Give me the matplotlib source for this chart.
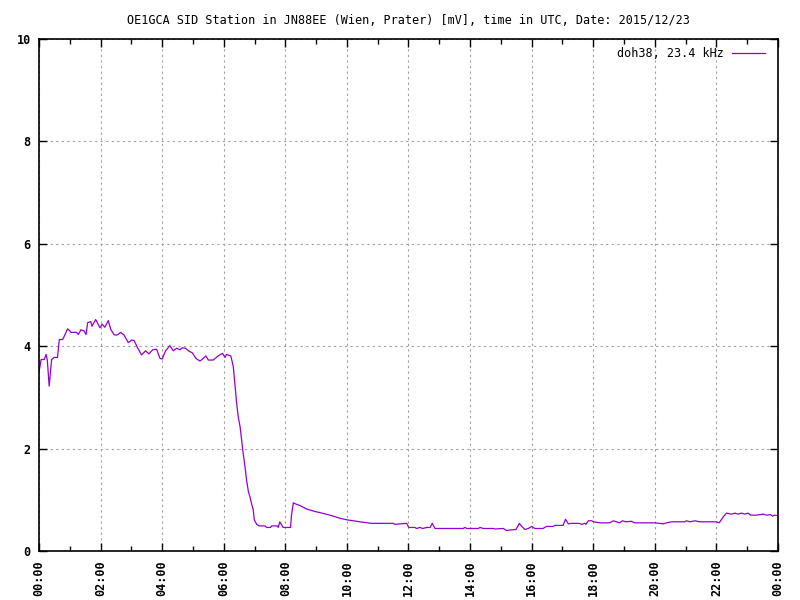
import matplotlib
matplotlib.use("Agg")
import matplotlib.pyplot as plt
from matplotlib.ticker import MultipleLocator

title = "OE1GCA SID Station in JN88EE (Wien, Prater) [mV], time in UTC, Date: 2015/12/23"
series_label = "doh38, 23.4 kHz"

hours = [0.00, 0.07, 0.17, 0.23, 0.27, 0.33, 0.38, 0.41, 0.49, 0.60, 0.66, 0.77, 0.93, 1.04,
         1.22, 1.28, 1.36, 1.46, 1.53, 1.58, 1.68, 1.72, 1.84, 1.98, 2.05, 2.14, 2.25, 2.33,
         2.44, 2.55, 2.65, 2.76, 2.90, 3.01, 3.09, 3.20, 3.33, 3.46, 3.57, 3.69, 3.82, 3.93,
         4.00, 4.11, 4.25, 4.36, 4.47, 4.58, 4.65, 4.76, 4.85, 4.98, 5.10, 5.23, 5.33, 5.42,
         5.50, 5.66, 5.82, 5.96, 6.04, 6.09, 6.23, 6.31, 6.36, 6.42, 6.47, 6.53, 6.58, 6.63,
         6.69, 6.74, 6.80, 6.85, 6.90, 6.96, 6.99, 7.07, 7.15, 7.34, 7.39, 7.52, 7.55, 7.74,
         7.77, 7.82, 7.88, 7.93, 8.17, 8.20, 8.26, 8.37, 8.47, 8.69, 8.91, 9.12, 9.45, 9.77,
         9.99, 10.42, 10.80, 11.50, 11.56, 11.94, 12.01, 12.21, 12.26, 12.37, 12.46, 12.59,
         12.70, 12.77, 12.86, 13.78, 13.83, 13.89, 14.27, 14.32, 14.43, 14.75, 14.81, 15.08,
         15.18, 15.29, 15.49, 15.60, 15.68, 15.78, 15.89, 16.00, 16.10, 16.37, 16.48, 16.70,
         16.75, 17.02, 17.10, 17.19, 17.30, 17.54, 17.62, 17.73, 17.76, 17.84, 17.95, 18.02,
         18.21, 18.54, 18.65, 18.76, 18.86, 18.95, 19.06, 19.24, 19.35, 19.73, 20.00, 20.16,
         20.27, 20.38, 20.54, 20.97, 21.03, 21.14, 21.30, 21.46, 22.00, 22.09, 22.16, 22.24,
         22.33, 22.49, 22.60, 22.70, 22.81, 22.92, 23.03, 23.11, 23.30, 23.52, 23.63, 23.76,
         23.82, 23.89, 24.00]
values = [3.50, 3.74, 3.74, 3.84, 3.73, 3.22, 3.54, 3.74, 3.78, 3.78, 4.13, 4.13, 4.34, 4.27,
          4.27, 4.23, 4.32, 4.30, 4.23, 4.46, 4.48, 4.39, 4.52, 4.36, 4.43, 4.37, 4.50, 4.33,
          4.22, 4.22, 4.27, 4.22, 4.07, 4.12, 4.11, 3.97, 3.83, 3.91, 3.85, 3.93, 3.94, 3.76,
          3.75, 3.91, 4.01, 3.91, 3.96, 3.93, 3.97, 3.96, 3.91, 3.87, 3.76, 3.71, 3.76, 3.81,
          3.73, 3.73, 3.81, 3.86, 3.78, 3.84, 3.81, 3.60, 3.28, 2.88, 2.62, 2.43, 2.17, 1.91,
          1.65, 1.39, 1.16, 1.06, 0.93, 0.80, 0.61, 0.52, 0.49, 0.49, 0.46, 0.46, 0.49, 0.49,
          0.46, 0.57, 0.51, 0.46, 0.46, 0.70, 0.94, 0.91, 0.89, 0.82, 0.78, 0.75, 0.70, 0.64,
          0.61, 0.57, 0.54, 0.54, 0.52, 0.54, 0.46, 0.46, 0.44, 0.46, 0.44, 0.46,
          0.46, 0.54, 0.44, 0.44, 0.46, 0.44, 0.44, 0.46, 0.44, 0.44, 0.43, 0.44,
          0.40, 0.41, 0.42, 0.54, 0.48, 0.42, 0.44, 0.48, 0.44, 0.44, 0.48, 0.48,
          0.50, 0.50, 0.62, 0.53, 0.54, 0.54, 0.52, 0.54, 0.52, 0.59, 0.59, 0.57,
          0.55, 0.55, 0.59, 0.57, 0.55, 0.59, 0.57, 0.58, 0.55, 0.55, 0.55, 0.54,
          0.53, 0.55, 0.57, 0.57, 0.59, 0.57, 0.59, 0.57, 0.57, 0.55, 0.61, 0.68,
          0.74, 0.72, 0.74, 0.72, 0.74, 0.72, 0.74, 0.70, 0.70, 0.72, 0.70, 0.71,
          0.68, 0.70, 0.69]

x_ticks = [0, 2, 4, 6, 8, 10, 12, 14, 16, 18, 20, 22, 24]
x_tick_labels = ["00:00", "02:00", "04:00", "06:00", "08:00", "10:00", "12:00",
                 "14:00", "16:00", "18:00", "20:00", "22:00", "00:00"]
y_ticks = [0, 2, 4, 6, 8, 10]

plt.rcParams['font.family'] = ['DejaVu Sans Mono']

fig = plt.figure(figsize=(8, 6), dpi=100)
ax = fig.add_axes([39/800, 49/600, (778-39)/800, (551-39)/600])

ax.plot(hours, values, color="#9400D3", lw=0.9, label=series_label)

ax.set_xlim(0, 24)
ax.set_ylim(0, 10)
ax.set_xticks(x_ticks)
ax.set_xticklabels(x_tick_labels, rotation=90, fontsize=8.5, fontweight='bold')
ax.xaxis.set_minor_locator(MultipleLocator(1))
ax.set_yticks(y_ticks)
ax.set_yticklabels([str(v) for v in y_ticks], fontsize=8.5, fontweight='bold')

ax.tick_params(which='both', direction='in', top=True, right=True, width=1)
ax.tick_params(which='major', length=6)
ax.tick_params(which='minor', length=3.5)
ax.tick_params(axis='x', pad=7)
ax.tick_params(axis='y', pad=6)

ax.grid(True, which='major', color='#a0a0a0', linestyle=(0, (2, 3)), lw=0.8)
for s in ax.spines.values():
    s.set_linewidth(1.2)

ax.set_title(title, fontsize=8.5, pad=11)

leg = ax.legend(loc='upper right', bbox_to_anchor=(0.9888, 0.9928), frameon=False,
                markerfirst=False, fontsize=8.5, handlelength=2.8, handletextpad=0.65,
                borderaxespad=0.0)

fig.savefig("out.png", dpi=100)
